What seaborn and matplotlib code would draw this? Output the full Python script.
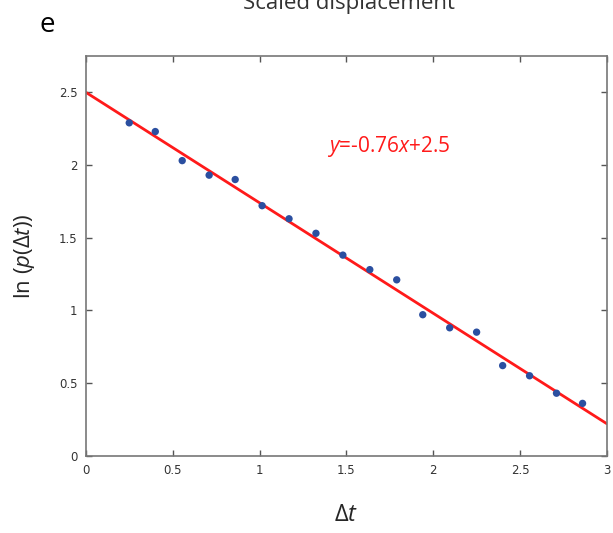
import numpy as np
import pandas as pd
import matplotlib
matplotlib.use("Agg")
import matplotlib.pyplot as plt
import seaborn as sns

sns.set_style("ticks")
plt.rcParams['font.family'] = ['Open Sans', 'DejaVu Sans']
plt.rcParams['mathtext.fontset'] = 'custom'
plt.rcParams['mathtext.rm'] = 'Open Sans'
plt.rcParams['mathtext.it'] = 'Open Sans:italic'

# measured points
dt = [0.25, 0.40, 0.555, 0.71, 0.86, 1.015, 1.17, 1.325, 1.48,
      1.635, 1.79, 1.94, 2.095, 2.25, 2.40, 2.555, 2.71, 2.86]
lnp = [2.29, 2.23, 2.03, 1.93, 1.90, 1.72, 1.63, 1.53, 1.38,
       1.28, 1.21, 0.97, 0.88, 0.85, 0.62, 0.55, 0.43, 0.36]

# linear fit y = slope*x + intercept
slope = -0.76
intercept = 2.5
fit_range = [0, 3]

df = pd.DataFrame({'dt': dt, 'lnp': lnp})
fit = pd.DataFrame({'x': fit_range})
fit['y'] = slope * fit['x'] + intercept

fig = plt.figure(figsize=(6.13, 5.33), dpi=100)
ax = fig.add_axes([0.140, 0.145, 0.850, 0.750])

sns.lineplot(data=fit, x='x', y='y', color='#ff1a1a', linewidth=2, ax=ax, zorder=2)
sns.scatterplot(data=df, x='dt', y='lnp', color='#2b4fa0', s=28, edgecolor='none',
                ax=ax, zorder=3)

ax.set_xlim(0, 3)
ax.set_ylim(0, 2.75)
ax.set_xticks([0, 0.5, 1, 1.5, 2, 2.5, 3])
ax.set_xticklabels(['0', '0.5', '1', '1.5', '2', '2.5', '3'])
ax.set_yticks([0, 0.5, 1, 1.5, 2, 2.5])
ax.set_yticklabels(['0', '0.5', '1', '1.5', '2', '2.5'])
ax.tick_params(direction='in', length=4, width=1, color='#555555',
               labelsize=8.5, labelcolor='#333333', top=True, right=True, pad=6)
for lab in ax.get_xticklabels() + ax.get_yticklabels():
    lab.set_family('DejaVu Sans')
for sp in ax.spines.values():
    sp.set_color('#777777')
    sp.set_linewidth(1.2)

ax.set_xlabel('Δ$t$', fontsize=17, labelpad=19)
ax.set_ylabel('ln ($p$(Δ$t$))', fontsize=16, labelpad=16)

ax.text(1.39, 2.13, '$y$=-0.76$x$+2.5', color='#ff1a1a', fontsize=15, va='center')

fig.text(0.57, 0.984, 'Scaled displacement', fontsize=16, color='#333333',
         ha='center', va='baseline')
fig.text(0.065, 0.94, 'e', fontsize=20, color='black', va='baseline')

fig.savefig('out.png', dpi=100)
